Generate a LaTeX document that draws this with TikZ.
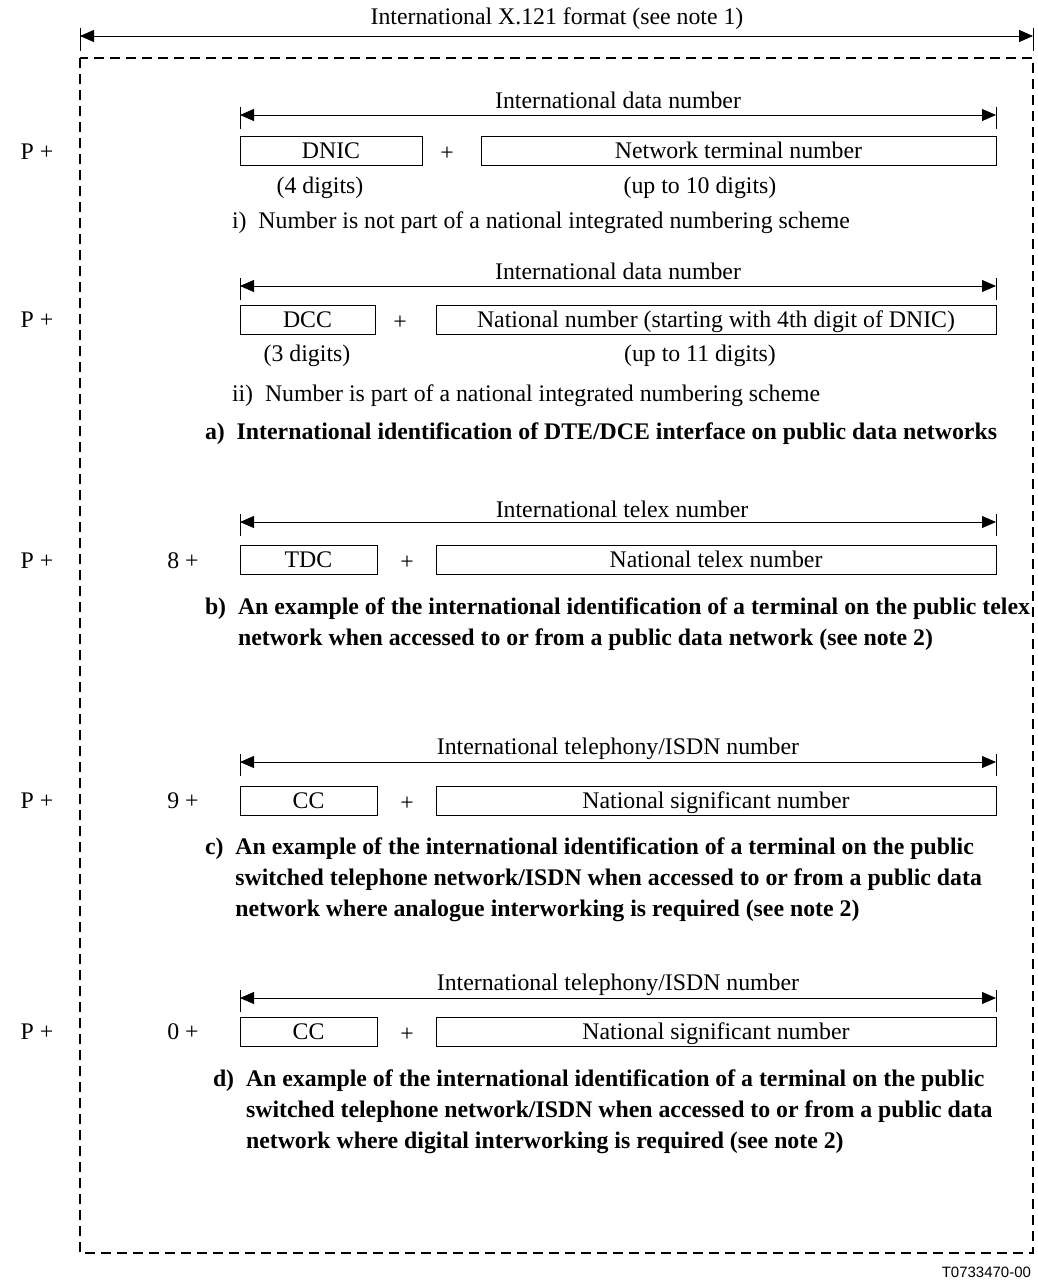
\documentclass[tikz,border=0pt]{standalone}
\usepackage{fontspec}
\setmainfont{Liberation Serif}
\newfontfamily\tagfont{Liberation Sans}
\usetikzlibrary{arrows.meta}
\begin{document}
\begin{tikzpicture}[x=1pt,y=-1pt,
  every node/.style={inner sep=0pt,outer sep=0pt,font=\fontsize{23.8}{31}\selectfont},
  field/.style={draw,line width=0.8pt,minimum height=29pt,text height=16pt,text depth=0pt,anchor=north west},
  spanarrow/.style={{Triangle[length=14pt,width=12pt]}-{Triangle[length=14pt,width=12pt]},line width=0.8pt},
  endtick/.style={line width=0.8pt},
  captext/.style={font=\fontsize{23.8}{31}\selectfont\bfseries,align=left,anchor=west},
  lbl/.style={anchor=base}]
\useasboundingbox (0,0) rectangle (1037,1283);

% overall width marker and dashed frame
\coordinate (tl) at (80,36); \coordinate (tr) at (1033,36);
\draw[endtick] (80,28) -- (80,51); \draw[endtick] (1033,28) -- (1033,51);
\draw[spanarrow] (tl) -- (tr);
\node[anchor=base] (title) at (557,24) {International X.121 format (see note 1)};
\draw[dashed,dash pattern=on 10pt off 6pt,line width=1.6pt] (80,58) rectangle (1033,1253);

% ---- a) i) ----
\node[lbl] (pa) at (37,159) {P +};
\draw[endtick] (240,107) -- (240,129); \draw[endtick] (996,107) -- (996,129);
\coordinate (a1l) at (240,115); \coordinate (a1r) at (996,115);
\draw[spanarrow] (a1l) -- (a1r);
\node[lbl] (a1t) at (618,108) {International data number};
\node[field,minimum width=182pt] (dnic) at (240,136) {DNIC};
\node[lbl] (pl1) at (447,160) {+};
\node[field,minimum width=515pt] (ntn) at (481,136) {Network terminal number};
\node (d4) at (320,188) {(4 digits)};
\node (d10) at (700,188) {(up to 10 digits)};
\node[anchor=west] (i) at (232,223) {i)\enspace Number is not part of a national integrated numbering scheme};

% ---- a) ii) ----
\node[lbl] (pb) at (37,327) {P +};
\draw[endtick] (240,278) -- (240,300); \draw[endtick] (996,278) -- (996,300);
\coordinate (a2l) at (240,286); \coordinate (a2r) at (996,286);
\draw[spanarrow] (a2l) -- (a2r);
\node[lbl] (a2t) at (618,279) {International data number};
\node[field,minimum width=135pt] (dcc) at (240,305) {DCC};
\node[lbl] (pl2) at (400,329) {+};
\node[field,minimum width=560pt] (nn) at (436,305) {National number (starting with 4th digit of DNIC)};
\node (d3) at (307,356) {(3 digits)};
\node (d11) at (700,356) {(up to 11 digits)};
\node[anchor=west] (ii) at (232,396) {ii)\enspace Number is part of a national integrated numbering scheme};
\node[captext] (capa) at (205,434) {a)\enspace International identification of DTE/DCE interface on public data networks};

% ---- b) ----
\node[lbl] (pc) at (37,568) {P +};
\node[lbl] (n8) at (183,568) {8 +};
\draw[endtick] (240,514) -- (240,536); \draw[endtick] (996,514) -- (996,536);
\coordinate (bl) at (240,522); \coordinate (br) at (996,522);
\draw[spanarrow] (bl) -- (br);
\node[lbl] (bt) at (622,517) {International telex number};
\node[field,minimum width=137pt] (tdc) at (240,545) {TDC};
\node[lbl] (pl3) at (407,569) {+};
\node[field,minimum width=560pt] (ntx) at (436,545) {National telex number};
\node[captext] (capb) at (205,624) {b)\enspace An example of the international identification of a terminal on the public telex\\
\phantom{b)\enspace}network when accessed to or from a public data network (see note 2)};

% ---- c) ----
\node[lbl] (pd) at (37,808) {P +};
\node[lbl] (n9) at (183,808) {9 +};
\draw[endtick] (240,754) -- (240,776); \draw[endtick] (996,754) -- (996,776);
\coordinate (cl) at (240,762); \coordinate (cr) at (996,762);
\draw[spanarrow] (cl) -- (cr);
\node[lbl] (ct) at (618,754) {International telephony/ISDN number};
\node[field,minimum width=137pt] (cc1) at (240,786) {CC};
\node[lbl] (pl4) at (407,810) {+};
\node[field,minimum width=560pt] (nsn1) at (436,786) {National significant number};
\node[captext] (capc) at (205,880) {c)\enspace An example of the international identification of a terminal on the public\\
\phantom{c)\enspace}switched telephone network/ISDN when accessed to or from a public data\\
\phantom{c)\enspace}network where analogue interworking is required (see note 2)};

% ---- d) ----
\node[lbl] (pe) at (37,1039) {P +};
\node[lbl] (n0) at (183,1039) {0 +};
\draw[endtick] (240,990) -- (240,1012); \draw[endtick] (996,990) -- (996,1012);
\coordinate (dl) at (240,998); \coordinate (dr) at (996,998);
\draw[spanarrow] (dl) -- (dr);
\node[lbl] (dt) at (618,990) {International telephony/ISDN number};
\node[field,minimum width=137pt] (cc2) at (240,1017) {CC};
\node[lbl] (pl5) at (407,1041) {+};
\node[field,minimum width=560pt] (nsn2) at (436,1017) {National significant number};
\node[captext] (capd) at (213,1112) {d)\enspace An example of the international identification of a terminal on the public\\
\phantom{d)\enspace}switched telephone network/ISDN when accessed to or from a public data\\
\phantom{d)\enspace}network where digital interworking is required (see note 2)};

% figure reference tag
\node[anchor=east,font=\tagfont\fontsize{15}{18}\selectfont] (tag) at (1031,1272) {T0733470-00};
\end{tikzpicture}
\end{document}
